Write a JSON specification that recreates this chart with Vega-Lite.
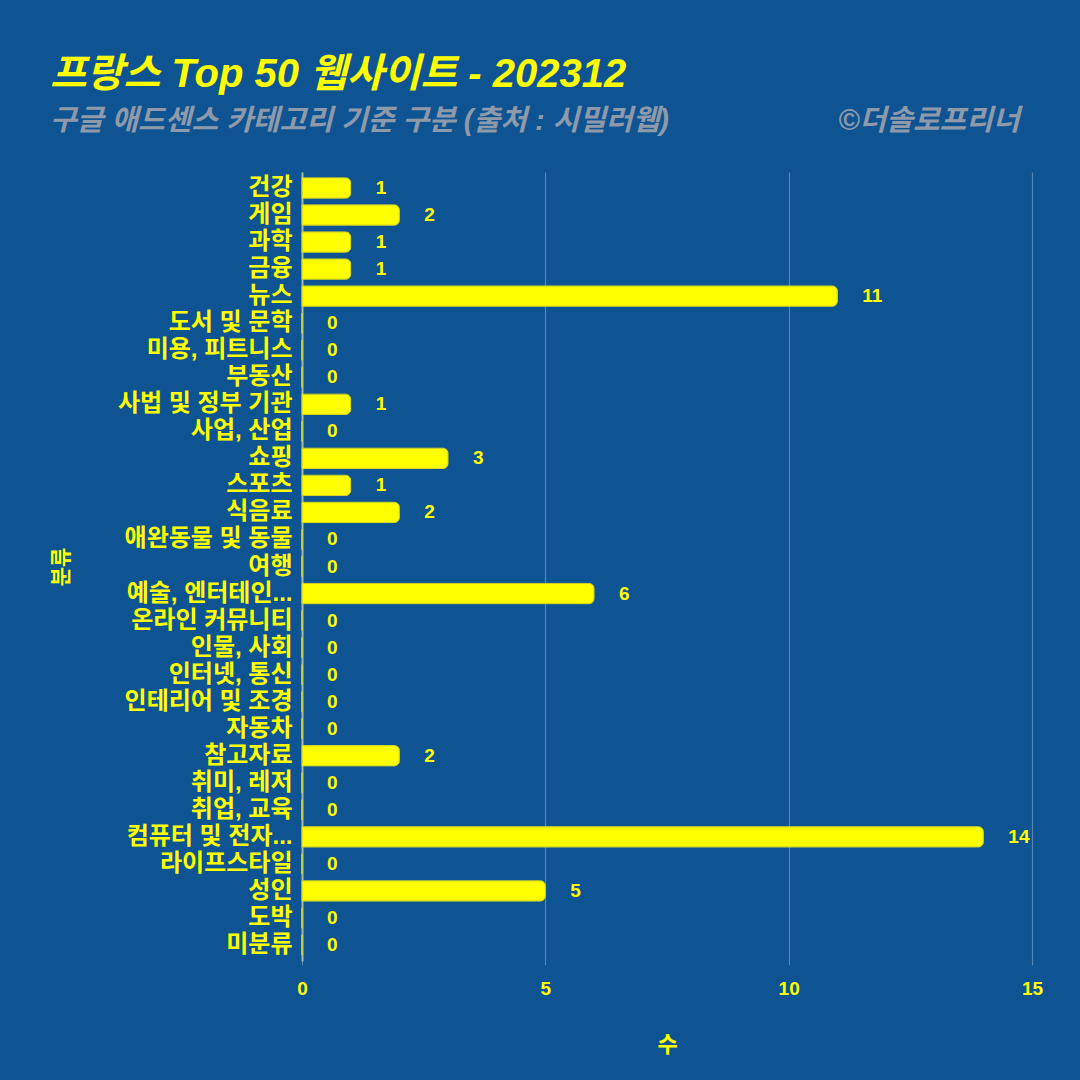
{
  "$schema": "https://vega.github.io/schema/vega-lite/v6.json",
  "autosize": "none",
  "width": 730,
  "height": 789,
  "padding": {"left": 302, "top": 172, "right": 48, "bottom": 119},
  "background": "#0E5493",
  "title": {
    "text": "프랑스 Top 50 웹사이트 - 202312",
    "subtitle": "구글 애드센스 카테고리 기준 구분 (출처 : 시밀러웹)\u00a0\u00a0\u00a0\u00a0\u00a0\u00a0\u00a0\u00a0\u00a0\u00a0\u00a0\u00a0\u00a0\u00a0\u00a0\u00a0\u00a0\u00a0\u00a0\u00a0\u00a0©더솔로프리너",
    "anchor": "start",
    "frame": "group",
    "dx": -252,
    "offset": 36,
    "font": "Liberation Sans, Noto Sans CJK KR",
    "fontSize": 40,
    "fontWeight": "bold",
    "fontStyle": "italic",
    "color": "#FFFF00",
    "subtitleFont": "Liberation Sans, Noto Sans CJK KR",
    "subtitleFontSize": 29,
    "subtitleFontWeight": "bold",
    "subtitleFontStyle": "italic",
    "subtitleColor": "#8E9AAA",
    "subtitlePadding": 12
  },
  "config": {
    "view": {"stroke": null},
    "font": "Liberation Sans, Noto Sans CJK KR"
  },
  "data": {
    "values": [
      {"category": "건강", "count": 1},
      {"category": "게임", "count": 2},
      {"category": "과학", "count": 1},
      {"category": "금융", "count": 1},
      {"category": "뉴스", "count": 11},
      {"category": "도서 및 문학", "count": 0},
      {"category": "미용, 피트니스", "count": 0},
      {"category": "부동산", "count": 0},
      {"category": "사법 및 정부 기관", "count": 1},
      {"category": "사업, 산업", "count": 0},
      {"category": "쇼핑", "count": 3},
      {"category": "스포츠", "count": 1},
      {"category": "식음료", "count": 2},
      {"category": "애완동물 및 동물", "count": 0},
      {"category": "여행", "count": 0},
      {"category": "예술, 엔터테인...", "count": 6},
      {"category": "온라인 커뮤니티", "count": 0},
      {"category": "인물, 사회", "count": 0},
      {"category": "인터넷, 통신", "count": 0},
      {"category": "인테리어 및 조경", "count": 0},
      {"category": "자동차", "count": 0},
      {"category": "참고자료", "count": 2},
      {"category": "취미, 레저", "count": 0},
      {"category": "취업, 교육", "count": 0},
      {"category": "컴퓨터 및 전자...", "count": 14},
      {"category": "라이프스타일", "count": 0},
      {"category": "성인", "count": 5},
      {"category": "도박", "count": 0},
      {"category": "미분류", "count": 0}
    ]
  },
  "encoding": {
    "y": {
      "field": "category",
      "type": "nominal",
      "sort": null,
      "title": "분류",
      "scale": {"paddingInner": 0.25, "paddingOuter": 0.217},
      "axis": {
        "labelFont": "Liberation Sans, Noto Sans CJK KR",
        "labelFontSize": 24,
        "labelFontWeight": "bold",
        "labelColor": "#FFFF00",
        "labelPadding": 10,
        "labelLimit": 300,
        "ticks": false,
        "domain": true,
        "domainColor": "#A8B8A0",
        "domainWidth": 2,
        "titleFont": "Liberation Sans, Noto Sans CJK KR",
        "titleFontSize": 21,
        "titleFontWeight": "bold",
        "titleColor": "#FFFF00",
        "titlePadding": 46
      }
    },
    "x": {
      "field": "count",
      "type": "quantitative",
      "title": "수",
      "scale": {"domain": [0, 15], "nice": false},
      "axis": {
        "values": [0, 5, 10, 15],
        "grid": true,
        "gridColor": "#C8D0D8",
        "gridOpacity": 0.4,
        "gridWidth": 1.2,
        "domain": false,
        "ticks": true,
        "tickColor": "#C8D0D8",
        "tickOpacity": 0.4,
        "tickSize": 4,
        "labelFlush": false,
        "labelFont": "Liberation Sans, Noto Sans CJK KR",
        "labelFontSize": 19,
        "labelFontWeight": "bold",
        "labelColor": "#FFFF00",
        "labelPadding": 14,
        "titleFont": "Liberation Sans, Noto Sans CJK KR",
        "titleFontSize": 22,
        "titleFontWeight": "bold",
        "titleColor": "#FFFF00",
        "titlePadding": 36
      }
    }
  },
  "layer": [
    {
      "mark": {"type": "bar", "color": "#FFFF00", "stroke": "#D8D820", "strokeWidth": 1, "cornerRadiusEnd": 5}
    },
    {
      "mark": {"type": "text", "align": "left", "baseline": "middle", "dx": 25, "color": "#FFFF00", "fontSize": 19, "fontWeight": "bold", "font": "Liberation Sans, Noto Sans CJK KR"},
      "encoding": {"text": {"field": "count", "type": "quantitative"}}
    }
  ]
}
